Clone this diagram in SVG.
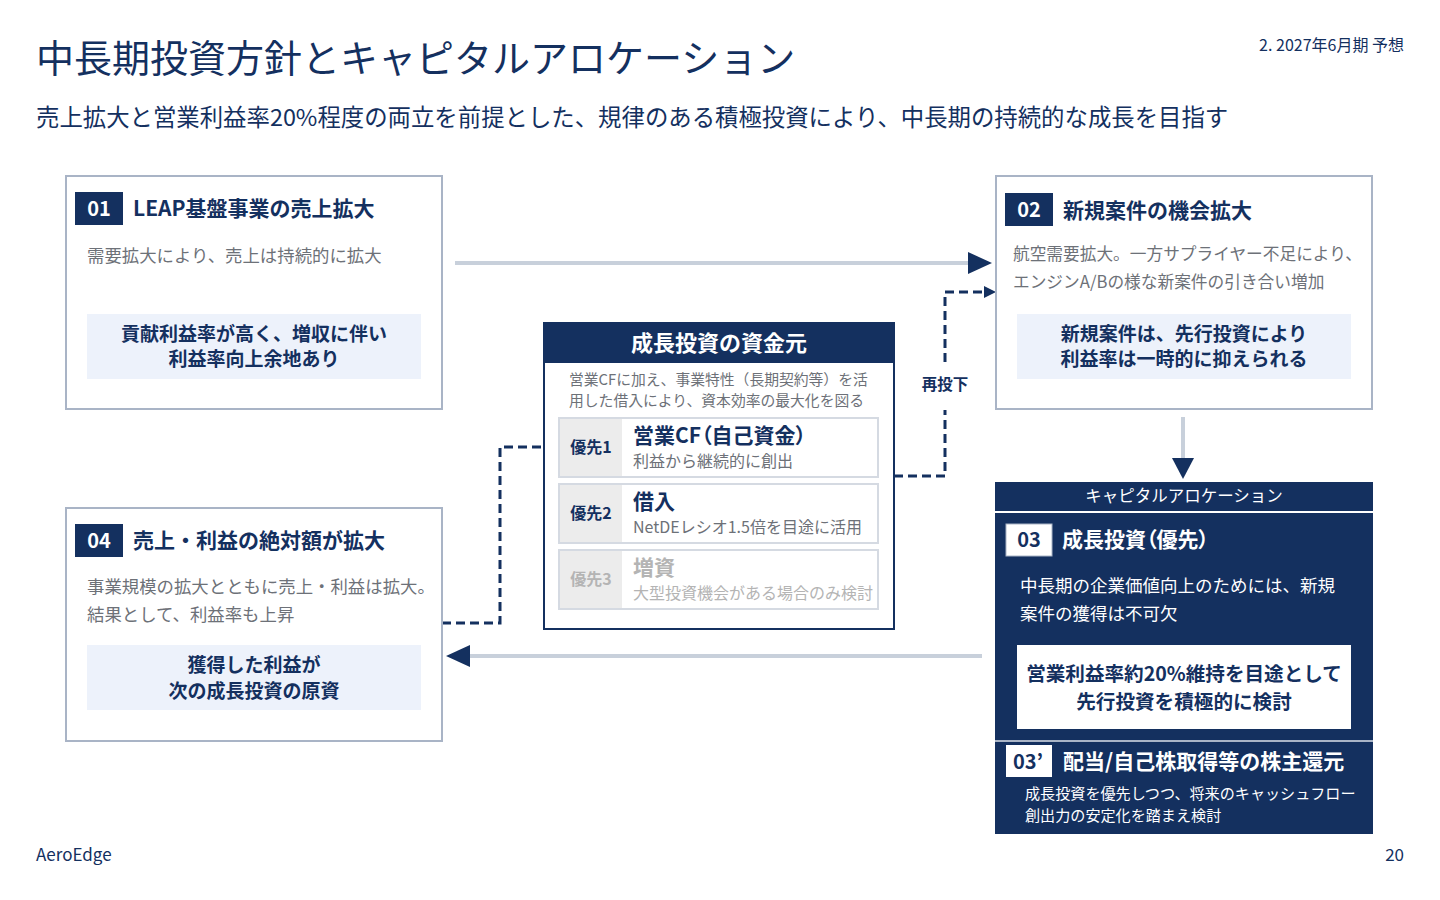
<svg xmlns="http://www.w3.org/2000/svg" width="1440" height="900" viewBox="0 0 1440 900">
<style>
text{font-family:"Noto Sans CJK JP","Noto Sans",sans-serif;}
.navy{fill:#14305f;}
.card{fill:#fff;stroke:#a9b4c6;stroke-width:2;}
.badge{fill:#14305f;}
.badgeT{fill:#fff;font-weight:700;font-size:20px;text-anchor:middle;}
.ttl{fill:#14305f;font-weight:700;font-size:21px;}
.desc{fill:#6d7178;font-size:17.4px;}
.hl{fill:#edf2fb;}
.hlT{fill:#14305f;font-weight:700;font-size:19px;text-anchor:middle;}
.row{fill:#fff;stroke:#d5dae2;stroke-width:2;}
.cell{fill:#ececec;}
.pri{fill:#14305f;font-weight:700;font-size:16px;text-anchor:middle;}
.main{fill:#14305f;font-weight:700;font-size:21px;}
.sub{fill:#6d7178;font-size:16px;}
.gline{stroke:#c8d0db;stroke-width:4;fill:none;}
.dash{stroke:#14305f;stroke-width:3;fill:none;stroke-dasharray:9 5;}
.head{fill:#14305f;}
.wT{fill:#fff;}
.palt{font-feature-settings:"palt";}
</style>
<rect width="1440" height="900" fill="#fff"/>

<g id="header">
<text x="36" y="72" class="navy" font-size="38">中長期投資方針とキャピタルアロケーション</text>
<text x="36" y="126" class="navy" font-size="23.4">売上拡大と営業利益率20%程度の両立を前提とした、規律のある積極投資により、中長期の持続的な成長を目指す</text>
<text x="1404" y="51" class="navy" font-size="16" text-anchor="end">2. 2027年6月期 予想</text>
</g>

<g id="connectors">
<line class="gline" x1="455" y1="263" x2="970" y2="263"/>
<polygon class="head" points="968,252 992,263 968,274"/>
<line class="gline" x1="982" y1="656" x2="468" y2="656"/>
<polygon class="head" points="470,645 446,656 470,667"/>
<line class="gline" x1="1183" y1="417" x2="1183" y2="460"/>
<polygon class="head" points="1172,458 1194,458 1183,479"/>
<path class="dash" d="M894,476 H945 V410"/>
<path class="dash" d="M945,362 V292 H986"/>
<polygon class="head" points="984,286 996,292 984,298"/>
<text x="945" y="390" class="navy" font-size="15.5" font-weight="700" text-anchor="middle">再投下</text>
<path class="dash" d="M442,623 H500 V447 H548"/>
<polygon class="head" points="547,441 558,447 547,453"/>
</g>

<g id="node01">
<rect class="card" x="66" y="176" width="376" height="233"/>
<rect class="badge" x="75" y="192" width="48" height="33"/>
<text class="badgeT" x="99" y="216">01</text>
<text class="ttl" x="133" y="216">LEAP基盤事業の売上拡大</text>
<text class="desc" x="87" y="262">需要拡大により、売上は持続的に拡大</text>
<rect class="hl" x="87" y="314" width="334" height="65"/>
<text class="hlT" x="254" y="341">貢献利益率が高く、増収に伴い</text>
<text class="hlT" x="254" y="366">利益率向上余地あり</text>
</g>

<g id="node02">
<rect class="card" x="996" y="176" width="376" height="233"/>
<rect class="badge" x="1005" y="193" width="48" height="33"/>
<text class="badgeT" x="1029" y="217">02</text>
<text class="ttl" x="1063" y="218">新規案件の機会拡大</text>
<text class="desc" x="1013" y="260" style="font-size:16.7px">航空需要拡大。一方サプライヤー不足により、</text>
<text class="desc" x="1013" y="288" style="font-size:16.7px">エンジンA/Bの様な新案件の引き合い増加</text>
<rect class="hl" x="1017" y="314" width="334" height="65"/>
<text class="hlT" x="1184" y="341">新規案件は、先行投資により</text>
<text class="hlT" x="1184" y="366">利益率は一時的に抑えられる</text>
</g>

<g id="node04">
<rect class="card" x="66" y="508" width="376" height="233"/>
<rect class="badge" x="75" y="524" width="48" height="33"/>
<text class="badgeT" x="99" y="548">04</text>
<text class="ttl" x="133" y="548">売上・利益の絶対額が拡大</text>
<text class="desc" x="87" y="593">事業規模の拡大とともに売上・利益は拡大。</text>
<text class="desc" x="87" y="621">結果として、利益率も上昇</text>
<rect class="hl" x="87" y="645" width="334" height="65"/>
<text class="hlT" x="254" y="672">獲得した利益が</text>
<text class="hlT" x="254" y="698">次の成長投資の原資</text>
</g>

<g id="funding">
<rect x="544" y="323" width="350" height="306" fill="#fff" stroke="#14305f" stroke-width="2"/>
<rect x="544" y="323" width="350" height="40" fill="#14305f"/>
<text x="719" y="351" class="wT" font-size="22" font-weight="700" text-anchor="middle">成長投資の資金元</text>
<text x="569" y="385" class="sub" style="font-size:14.8px">営業CFに加え、事業特性（長期契約等）を活</text>
<text x="569" y="406" class="sub" style="font-size:14.8px">用した借入により、資本効率の最大化を図る</text>
<g id="row1">
<rect class="row" x="559" y="418" width="319" height="59"/>
<rect class="cell" x="560" y="419" width="62" height="57"/>
<text class="pri" x="591" y="453">優先1</text>
<text class="main palt" x="633" y="443">営業CF（自己資金）</text>
<text class="sub" x="633" y="467">利益から継続的に創出</text>
</g>
<g id="row2">
<rect class="row" x="559" y="484" width="319" height="59"/>
<rect class="cell" x="560" y="485" width="62" height="57"/>
<text class="pri" x="591" y="519">優先2</text>
<text class="main" x="633" y="509">借入</text>
<text class="sub" x="633" y="533">NetDEレシオ1.5倍を目途に活用</text>
</g>
<g id="row3">
<rect class="row" x="559" y="550" width="319" height="59"/>
<rect class="cell" x="560" y="551" width="62" height="57"/>
<text class="pri" x="591" y="585" style="fill:#b4b4b4">優先3</text>
<text class="main" x="633" y="575" style="fill:#b4b4b4">増資</text>
<text class="sub" x="633" y="599" style="fill:#b4b4b4">大型投資機会がある場合のみ検討</text>
</g>
</g>

<g id="capital">
<rect x="995" y="482" width="378" height="352" fill="#14305f"/>
<text x="1184" y="502" class="wT" font-size="16.5" text-anchor="middle">キャピタルアロケーション</text>
<line x1="995" y1="512" x2="1373" y2="512" stroke="#fff" stroke-width="2"/>
<g id="node03">
<rect x="1006" y="524" width="46" height="32" fill="#fff" stroke="#a9b4c6" stroke-width="1"/>
<text x="1029" y="547" class="navy" font-size="20" font-weight="700" text-anchor="middle">03</text>
<text x="1062" y="547" class="wT palt" font-size="21" font-weight="700">成長投資（優先）</text>
<text x="1020" y="592" class="wT" font-size="17.5">中長期の企業価値向上のためには、新規</text>
<text x="1020" y="620" class="wT" font-size="17.5">案件の獲得は不可欠</text>
<rect x="1017" y="645" width="334" height="84" fill="#fff"/>
<text x="1184" y="681" class="hlT" style="font-size:19.6px">営業利益率約20%維持を目途として</text>
<text x="1184" y="709" class="hlT" style="font-size:19.6px">先行投資を積極的に検討</text>
</g>
<line x1="995" y1="741" x2="1373" y2="741" stroke="#a9b4c6" stroke-width="2"/>
<g id="node03b">
<rect x="1006" y="745" width="46" height="32" fill="#fff"/>
<text x="1028" y="769" class="navy" font-size="20" font-weight="700" text-anchor="middle">03’</text>
<text x="1063" y="769" class="wT" font-size="21" font-weight="700">配当/自己株取得等の株主還元</text>
<text x="1025" y="799" class="wT" font-size="15.1">成長投資を優先しつつ、将来のキャッシュフロー</text>
<text x="1025" y="821" class="wT" font-size="15.1">創出力の安定化を踏まえ検討</text>
</g>
</g>

<g id="footer">
<text x="36" y="861" class="navy" font-size="17">AeroEdge</text>
<text x="1404" y="861" class="navy" font-size="17" text-anchor="end">20</text>
</g>
</svg>
